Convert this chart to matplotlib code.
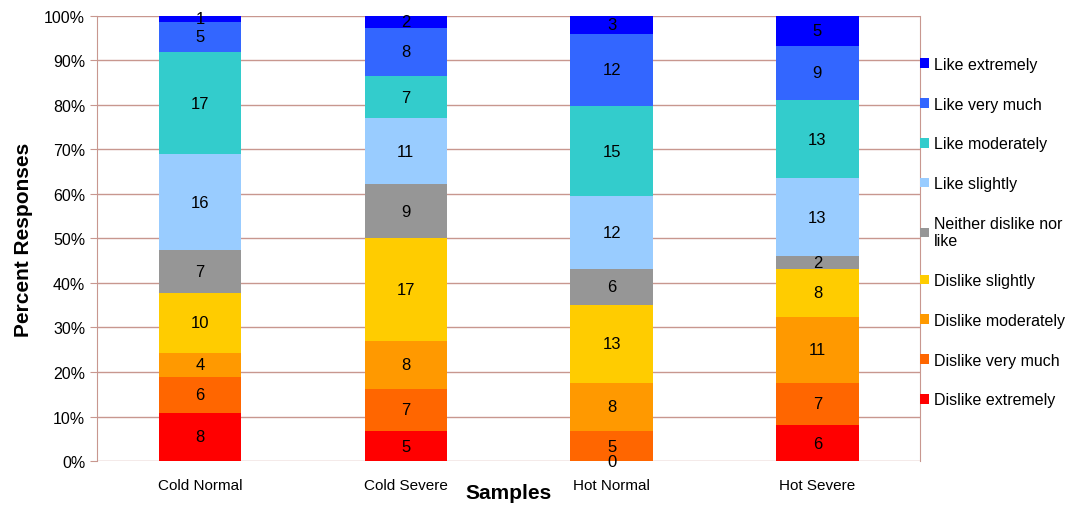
import numpy as np
import matplotlib.pyplot as plt

plt.rcParams['font.family'] = ['Liberation Sans', 'DejaVu Sans']

samples = ['Cold Normal', 'Cold Severe', 'Hot Normal', 'Hot Severe']
levels = ['Dislike extremely', 'Dislike very much', 'Dislike moderately',
          'Dislike slightly', 'Neither dislike nor\nlike', 'Like slightly',
          'Like moderately', 'Like very much', 'Like extremely']

# response counts per level (rows) for each sample (columns)
dislike_extremely = [8, 5, 0, 6]
dislike_very_much = [6, 7, 5, 7]
dislike_moderately = [4, 8, 8, 11]
dislike_slightly = [10, 17, 13, 8]
neither = [7, 9, 6, 2]
like_slightly = [16, 11, 12, 13]
like_moderately = [17, 7, 15, 13]
like_very_much = [5, 8, 12, 9]
like_extremely = [1, 2, 3, 5]

colors = ['#ff0000', '#ff6600', '#ff9900', '#ffcc00', '#969696',
          '#99ccff', '#33cccc', '#3366ff', '#0000ff']

counts = np.array([dislike_extremely, dislike_very_much, dislike_moderately,
                   dislike_slightly, neither, like_slightly, like_moderately,
                   like_very_much, like_extremely], dtype=float)
pct = counts / counts.sum(axis=0) * 100

fig = plt.figure(figsize=(10.72, 5.10), dpi=100)
ax = fig.add_axes([0.0905, 0.094, 0.768, 0.873])

x = np.arange(len(samples))
bottom = np.zeros(len(samples))
for i in range(len(levels)):
    ax.bar(x, pct[i], 0.40, bottom=bottom, color=colors[i], label=levels[i], zorder=2)
    for j in range(len(samples)):
        ax.text(x[j], bottom[j] + pct[i][j] / 2, '%d' % counts[i][j],
                ha='center', va='center', fontsize=12, zorder=3)
    bottom += pct[i]

ax.set_xlim(-0.5, 3.5)
ax.set_ylim(0, 100)
ax.set_yticks(np.arange(0, 101, 10))
ax.set_yticklabels(['%d%%' % v for v in range(0, 101, 10)])
ax.grid(axis='y', color='#c8978f', linewidth=1, zorder=0)
ax.set_xticks(x)
ax.set_xticklabels(samples)
ax.tick_params(axis='x', length=0, pad=12, labelsize=11)
ax.tick_params(axis='y', length=5, color='#c8978f', labelsize=11.5)
for s in ['top', 'bottom']:
    ax.spines[s].set_visible(False)
for s in ['left', 'right']:
    ax.spines[s].set_color('#c8978f')

ax.set_ylabel('Percent Responses', fontsize=15, fontweight='bold', labelpad=8)
ax.set_xlabel('Samples', fontsize=15, fontweight='bold', labelpad=-6)

handles, labs = ax.get_legend_handles_labels()
leg = fig.legend(handles[::-1], labs[::-1], loc='upper left',
                 bbox_to_anchor=(0.852, 0.899), frameon=False, fontsize=11.5,
                 handlelength=0.55, handleheight=0.55, handletextpad=0.35,
                 labelspacing=1.55, borderaxespad=0)

fig.savefig('out.png', dpi=100)
